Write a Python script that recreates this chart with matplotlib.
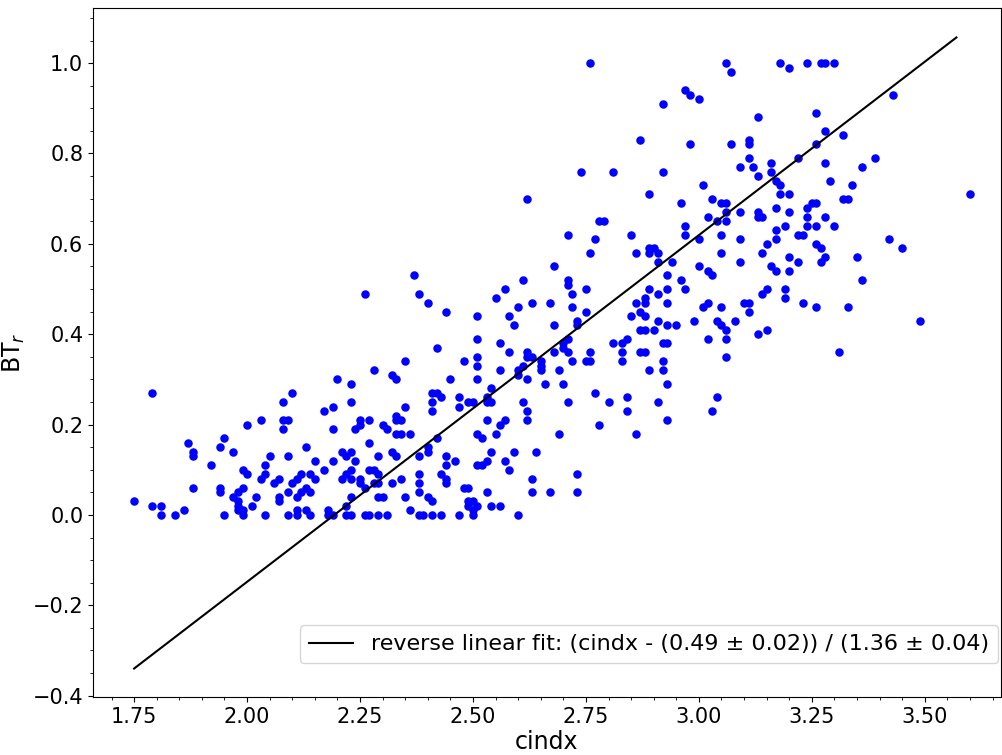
import numpy as np
import matplotlib.pyplot as plt

# puntos, agrupados por zona (cindx, BT_r)
upper_right = [
    (2.62, 0.70), (2.76, 1.00), (3.06, 1.00), (3.07, 0.98), (2.97, 0.94), (2.98, 0.93),
    (3.00, 0.92), (2.92, 0.91), (3.13, 0.88), (2.87, 0.83), (2.98, 0.82), (3.07, 0.82),
    (3.11, 0.83), (3.11, 0.82), (3.11, 0.79), (2.74, 0.76), (2.81, 0.76), (2.92, 0.76),
    (3.09, 0.77), (3.12, 0.77), (3.16, 0.78), (3.16, 0.76), (3.13, 0.75), (3.01, 0.73),
    (2.89, 0.71), (2.96, 0.69), (3.03, 0.70), (3.05, 0.69), (3.06, 0.69),
    (3.06, 0.67), (3.09, 0.67), (3.13, 0.67), (3.02, 0.66), (3.13, 0.66), (3.14, 0.66),
    (3.04, 0.65), (3.06, 0.65),
    (3.18, 1.00), (3.20, 0.99), (3.24, 1.00), (3.27, 1.00), (3.28, 1.00), (3.30, 1.00),
    (3.43, 0.93), (3.26, 0.89), (3.28, 0.85), (3.32, 0.84), (3.26, 0.82), (3.22, 0.79),
    (3.28, 0.78), (3.39, 0.79), (3.36, 0.77), (3.17, 0.74), (3.18, 0.73), (3.29, 0.74),
    (3.34, 0.73), (3.18, 0.71), (3.20, 0.71), (3.25, 0.69), (3.26, 0.69), (3.32, 0.70),
    (3.33, 0.70), (3.60, 0.71), (3.17, 0.68), (3.24, 0.68),
]

right_mid = [
    (3.20, 0.67), (3.24, 0.66), (3.28, 0.66), (3.17, 0.63), (3.19, 0.64), (3.24, 0.64),
    (3.26, 0.64), (3.30, 0.64), (3.17, 0.61), (3.22, 0.62), (3.23, 0.62), (3.42, 0.61),
    (3.45, 0.59), (3.26, 0.60), (3.27, 0.59), (3.20, 0.57), (3.22, 0.56), (3.27, 0.56),
    (3.28, 0.57), (3.35, 0.57), (3.16, 0.55), (3.17, 0.54), (3.20, 0.54), (3.36, 0.52),
    (3.19, 0.50), (3.19, 0.48), (3.23, 0.47), (3.26, 0.46), (3.33, 0.46), (3.49, 0.43),
    (3.31, 0.36),
]

center = [
    (2.78, 0.65), (2.79, 0.65), (2.97, 0.64), (2.71, 0.62), (2.85, 0.62), (2.97, 0.62),
    (3.05, 0.62), (2.77, 0.61), (3.00, 0.61), (3.09, 0.61), (3.15, 0.60), (2.89, 0.59),
    (2.90, 0.59), (2.76, 0.58), (2.86, 0.58), (2.89, 0.58), (2.91, 0.58), (3.05, 0.58),
    (3.14, 0.58), (2.68, 0.55), (2.91, 0.56), (2.94, 0.56), (3.09, 0.56), (3.00, 0.55),
    (3.02, 0.54), (3.03, 0.53), (2.93, 0.53), (2.71, 0.52), (2.71, 0.51), (2.96, 0.52),
    (2.72, 0.49), (2.75, 0.50), (2.89, 0.50), (2.93, 0.50), (2.97, 0.50), (2.91, 0.49),
    (3.15, 0.50), (3.14, 0.49), (2.86, 0.47), (2.88, 0.48), (2.88, 0.47), (2.93, 0.47),
    (3.02, 0.47), (3.01, 0.46), (3.10, 0.47), (3.11, 0.47), (2.72, 0.46), (3.05, 0.46),
    (2.75, 0.45), (2.87, 0.45), (3.11, 0.45), (2.85, 0.44), (2.88, 0.44), (2.73, 0.43),
    (2.73, 0.42), (2.91, 0.43), (2.99, 0.43), (3.04, 0.43), (3.08, 0.43), (2.68, 0.42),
    (2.93, 0.42), (2.95, 0.42), (3.05, 0.42), (2.87, 0.41), (2.88, 0.41), (2.90, 0.41),
    (3.15, 0.41), (3.06, 0.41), (3.13, 0.40), (2.71, 0.39), (2.84, 0.39), (3.02, 0.39),
    (3.06, 0.39), (2.70, 0.38), (2.70, 0.37), (2.81, 0.38), (2.83, 0.38), (2.92, 0.38),
    (2.93, 0.38), (2.68, 0.36), (2.71, 0.36), (2.76, 0.36), (2.83, 0.36), (2.87, 0.36),
    (2.88, 0.36), (3.06, 0.35), (2.72, 0.34), (2.75, 0.34), (2.76, 0.34), (2.83, 0.34),
    (2.92, 0.34),
    (2.69, 0.32), (2.89, 0.32), (2.92, 0.32), (2.70, 0.29), (2.93, 0.29), (2.77, 0.27),
    (2.84, 0.26), (3.04, 0.26), (2.71, 0.25), (2.80, 0.25), (2.91, 0.25), (2.84, 0.23),
    (3.03, 0.23), (2.93, 0.21), (2.78, 0.20), (2.69, 0.18), (2.86, 0.18), (2.73, 0.09),
    (2.73, 0.05),
]

left_mid = [
    (2.37, 0.53), (2.26, 0.49), (2.38, 0.49), (2.40, 0.47), (2.44, 0.45), (2.51, 0.44),
    (2.61, 0.52), (2.57, 0.50), (2.55, 0.48), (2.60, 0.46), (2.63, 0.47), (2.67, 0.47),
    (2.58, 0.44), (2.59, 0.42), (2.51, 0.39), (2.56, 0.38), (2.42, 0.37), (2.58, 0.36),
    (2.62, 0.36), (2.62, 0.35), (2.63, 0.35), (2.51, 0.35), (2.35, 0.34), (2.48, 0.34),
    (2.51, 0.33), (2.65, 0.34), (2.65, 0.33), (2.61, 0.33),
]

lower_mid = [
    (2.28, 0.32), (2.32, 0.31), (2.33, 0.30), (2.56, 0.32), (2.60, 0.32), (2.60, 0.31),
    (2.65, 0.32), (2.23, 0.29), (2.45, 0.30), (2.51, 0.30), (2.62, 0.30), (2.66, 0.29),
    (2.54, 0.28), (2.23, 0.25), (2.41, 0.27), (2.42, 0.27), (2.43, 0.26), (2.41, 0.25),
    (2.41, 0.23), (2.47, 0.26), (2.47, 0.24), (2.49, 0.25), (2.50, 0.25), (2.53, 0.26),
    (2.53, 0.25), (2.54, 0.25), (2.35, 0.24), (2.61, 0.25), (2.62, 0.23), (2.62, 0.21),
    (2.25, 0.21), (2.25, 0.20), (2.24, 0.19), (2.27, 0.21), (2.30, 0.20), (2.31, 0.19),
    (2.33, 0.22), (2.33, 0.21), (2.34, 0.21), (2.33, 0.18), (2.34, 0.18), (2.36, 0.18),
    (2.27, 0.16), (2.42, 0.17), (2.53, 0.21), (2.57, 0.21), (2.56, 0.20), (2.51, 0.18),
    (2.52, 0.17), (2.55, 0.18), (2.40, 0.15), (2.40, 0.14), (2.21, 0.14), (2.22, 0.13),
    (2.23, 0.14), (2.24, 0.12), (2.32, 0.14), (2.33, 0.13), (2.29, 0.13), (2.38, 0.13),
    (2.54, 0.14), (2.59, 0.14), (2.64, 0.14), (2.44, 0.13), (2.46, 0.12), (2.53, 0.12),
    (2.57, 0.12), (2.44, 0.11), (2.51, 0.11), (2.52, 0.11), (2.58, 0.10), (2.23, 0.10),
    (2.27, 0.10), (2.28, 0.10), (2.29, 0.09), (2.22, 0.09), (2.21, 0.08), (2.23, 0.08),
    (2.25, 0.08), (2.25, 0.07), (2.26, 0.06), (2.28, 0.07), (2.29, 0.07), (2.34, 0.08),
    (2.32, 0.07), (2.38, 0.09), (2.38, 0.07), (2.43, 0.09), (2.44, 0.08), (2.44, 0.07),
    (2.63, 0.08), (2.63, 0.05), (2.67, 0.05), (2.53, 0.05), (2.48, 0.06), (2.49, 0.06),
    (2.23, 0.04), (2.29, 0.04), (2.30, 0.04), (2.35, 0.04), (2.38, 0.05), (2.40, 0.04),
    (2.41, 0.03), (2.22, 0.02), (2.36, 0.01), (2.49, 0.03), (2.50, 0.03), (2.49, 0.02),
    (2.51, 0.02), (2.50, 0.01), (2.54, 0.02), (2.56, 0.02), (2.22, 0.00), (2.23, 0.00),
    (2.26, 0.00), (2.27, 0.00), (2.29, 0.00), (2.31, 0.00), (2.38, 0.00), (2.39, 0.00),
    (2.41, 0.00), (2.43, 0.00), (2.47, 0.00), (2.50, 0.00), (2.60, 0.00),
]

lower_left = [
    (2.20, 0.30), (1.79, 0.27), (2.10, 0.27), (2.08, 0.25), (2.17, 0.23), (2.19, 0.24),
    (2.00, 0.20), (2.03, 0.21), (2.08, 0.21), (2.09, 0.21), (2.08, 0.19), (2.19, 0.19),
    (1.87, 0.16), (1.95, 0.17), (1.88, 0.14), (1.88, 0.13), (1.94, 0.15), (1.97, 0.14),
    (2.13, 0.15), (2.05, 0.13), (2.09, 0.13), (2.15, 0.12), (2.19, 0.12), (1.92, 0.11),
    (1.99, 0.10), (2.00, 0.09), (2.04, 0.11), (2.04, 0.09), (2.03, 0.08), (2.07, 0.08),
    (2.06, 0.07), (2.12, 0.09), (2.11, 0.08), (2.10, 0.07), (2.14, 0.09), (2.15, 0.08),
    (2.17, 0.10), (1.88, 0.06), (1.94, 0.06), (1.94, 0.05), (1.99, 0.06), (1.98, 0.05),
    (1.97, 0.04), (1.98, 0.03), (1.98, 0.02), (2.01, 0.02), (1.98, 0.01), (1.99, 0.01),
    (2.02, 0.04), (2.07, 0.04), (2.07, 0.03), (2.09, 0.05), (2.12, 0.05), (2.13, 0.06),
    (2.11, 0.04), (2.14, 0.05), (1.75, 0.03), (1.79, 0.02), (1.81, 0.02), (1.81, 0.00),
    (1.84, 0.00), (1.86, 0.01), (1.95, 0.00), (1.99, 0.00), (2.04, 0.00), (2.09, 0.00),
    (2.11, 0.00), (2.11, 0.01), (2.13, 0.01), (2.14, 0.00), (2.18, 0.01), (2.18, 0.00),
    (2.19, 0.00),
]

# recta del ajuste inverso
fit_x_min, fit_x_max = 1.75, 3.57
fit_center, fit_scale = 2.193, 1.303
fit_label = "reverse linear fit: (cindx - (0.49 ± 0.02)) / (1.36 ± 0.04)"

puntos = np.array(upper_right + right_mid + center + left_mid + lower_mid + lower_left)
cindx = puntos[:, 0]
bt_r = puntos[:, 1]

fig = plt.figure(figsize=(10.03, 7.55), dpi=100)
ax = fig.add_axes([0.0927, 0.0768, 0.905, 0.9126])

ax.scatter(cindx, bt_r, color="blue", s=26, zorder=2)
x_fit = np.array([fit_x_min, fit_x_max])
ax.plot(x_fit, (x_fit - fit_center) / fit_scale, color="black", linewidth=1.5, label=fit_label)

ax.set_xlim(1.659, 3.668)
ax.set_ylim(-0.403, 1.122)
ax.set_xticks([1.75, 2.00, 2.25, 2.50, 2.75, 3.00, 3.25, 3.50])
ax.set_yticks([-0.4, -0.2, 0.0, 0.2, 0.4, 0.6, 0.8, 1.0])
ax.minorticks_on()
ax.tick_params(labelsize=15)
ax.set_xlabel("cindx", fontsize=17, labelpad=2)
ax.set_ylabel("BT$_r$", fontsize=17)
ax.legend(loc="lower right", bbox_to_anchor=(0.997, 0.049), borderaxespad=0, fontsize=16)

fig.savefig("out.png", dpi=100)
